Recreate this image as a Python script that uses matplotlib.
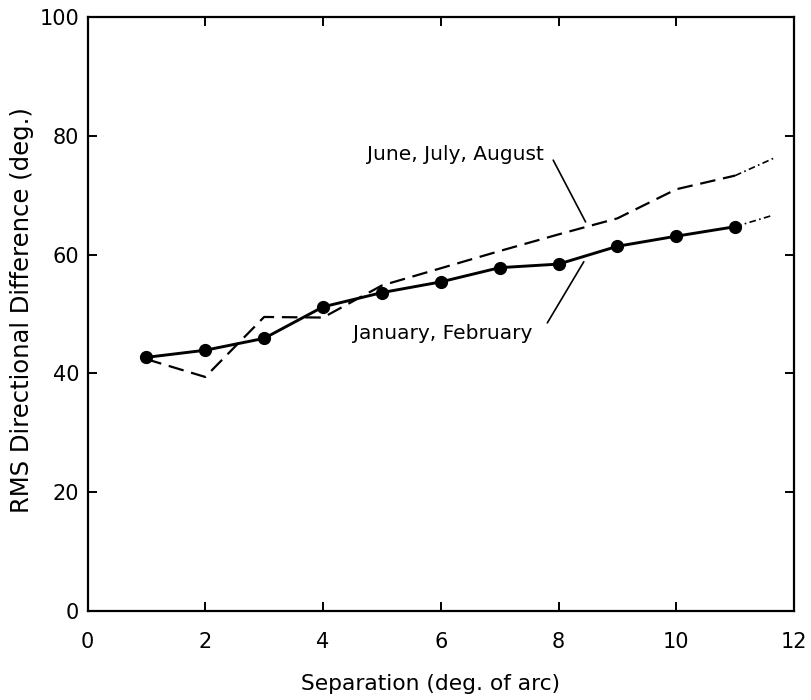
import matplotlib
matplotlib.use("Agg")
import matplotlib.pyplot as plt

plt.rcParams['font.family'] = ['DejaVu Sans']

# Separation (degrees of arc)
separation = [1, 2, 3, 4, 5, 6, 7, 8, 9, 10, 11]

# RMS directional difference, winter months (with markers)
jan_feb = [42.7, 43.9, 45.9, 51.2, 53.6, 55.4, 57.8, 58.4, 61.4, 63.1, 64.7]
# RMS directional difference, summer months (dashed)
jun_jul_aug = [42.4, 39.4, 49.5, 49.4, 54.8, 57.7, 60.6, 63.4, 66.1, 71.0, 73.3]

# Extrapolated tails beyond the last sample
jan_tail_x = [11, 11.6]
jan_tail_y = [64.7, 66.5]
jun_tail_x = [11, 11.65]
jun_tail_y = [73.3, 76.2]

x_ticks = [0, 2, 4, 6, 8, 10, 12]
y_ticks = [0, 20, 40, 60, 80, 100]

fig = plt.figure(figsize=(8.11, 7.0), dpi=100)
ax = fig.add_axes([87.5 / 811, 1 - 611 / 700, (794 - 87.5) / 811, (611 - 17) / 700])

ax.plot(separation, jun_jul_aug, color='black', lw=1.6, linestyle=(0, (7, 3.5)))
ax.plot(jun_tail_x, jun_tail_y, color='black', lw=1.2, linestyle=(0, (4, 2, 1, 2)))

ax.plot(separation, jan_feb, color='black', lw=2.1, marker='o', markersize=8.5,
        markerfacecolor='black', markeredgecolor='black')
ax.plot(jan_tail_x, jan_tail_y, color='black', lw=1.2, linestyle=(0, (4, 2, 1, 2)))

# Curve labels
ax.text(6.25, 76.9, 'June, July, August', ha='center', va='center', fontsize=14.5)
ax.text(6.04, 46.8, 'January, February', ha='center', va='center', fontsize=14.5)

# Leader lines from labels to curves
leader = dict(arrowstyle='-', color='black', lw=1.2, shrinkA=0, shrinkB=0)
ax.annotate('', xy=(8.46, 65.5), xytext=(7.91, 75.9), arrowprops=leader)
ax.annotate('', xy=(8.43, 58.8), xytext=(7.81, 48.5), arrowprops=leader)

ax.set_xlim(0, 12)
ax.set_ylim(0, 100)
ax.set_xticks(x_ticks)
ax.set_yticks(y_ticks)
ax.set_xticklabels([str(v) for v in x_ticks])
ax.set_yticklabels([str(v) for v in y_ticks])

ax.tick_params(axis='both', which='both', direction='in', length=6.5, width=1.4,
               top=True, right=True, labelsize=15)
ax.tick_params(axis='x', pad=15)
ax.tick_params(axis='y', pad=6)

for sp in ax.spines.values():
    sp.set_linewidth(1.6)

ax.set_xlabel('Separation (deg. of arc)', fontsize=15.7)
ax.set_ylabel('RMS Directional Difference (deg.)', fontsize=17.5)
ax.xaxis.set_label_coords(0.486, -0.106)
ax.yaxis.set_label_coords(-0.076, 0.506)

fig.savefig('out.png', dpi=100)
